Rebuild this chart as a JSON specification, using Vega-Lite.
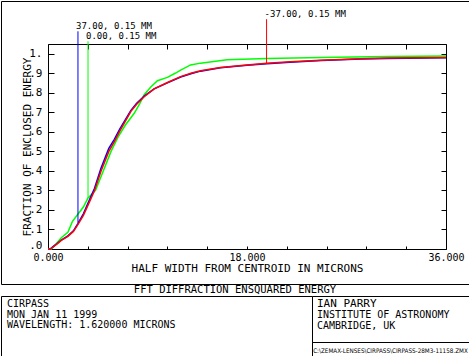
{
  "$schema": "https://vega.github.io/schema/vega-lite/v6.json",
  "padding": 0,
  "background": "white",
  "spacing": 0,
  "bounds": "flush",
  "config": {
    "font": "DejaVu Sans Mono",
    "view": {"stroke": "black", "strokeWidth": 1, "fill": "white"},
    "concat": {"spacing": 0},
    "axis": {
      "domainColor": "black", "tickColor": "black", "labelColor": "black", "titleColor": "black",
      "labelFont": "DejaVu Sans Mono", "titleFont": "DejaVu Sans Mono",
      "labelFontSize": 11, "titleFontSize": 11, "titleFontWeight": "normal",
      "grid": false, "domainWidth": 1, "tickWidth": 1
    },
    "text": {"font": "DejaVu Sans Mono", "fontSize": 11, "color": "black"}
  },
  "datasets": {
    "curves": [
      {"field": "0.00, 0.15 MM", "r": 0, "ee": 0},
      {"field": "0.00, 0.15 MM", "r": 0.3, "ee": 0},
      {"field": "0.00, 0.15 MM", "r": 0.6, "ee": 0.018},
      {"field": "0.00, 0.15 MM", "r": 1.2, "ee": 0.058},
      {"field": "0.00, 0.15 MM", "r": 1.8, "ee": 0.086},
      {"field": "0.00, 0.15 MM", "r": 2.2, "ee": 0.14},
      {"field": "0.00, 0.15 MM", "r": 2.7, "ee": 0.178},
      {"field": "0.00, 0.15 MM", "r": 3.2, "ee": 0.215},
      {"field": "0.00, 0.15 MM", "r": 3.62, "ee": 0.262},
      {"field": "0.00, 0.15 MM", "r": 4.3, "ee": 0.3},
      {"field": "0.00, 0.15 MM", "r": 5.0, "ee": 0.4},
      {"field": "0.00, 0.15 MM", "r": 5.7, "ee": 0.5},
      {"field": "0.00, 0.15 MM", "r": 6.4, "ee": 0.58},
      {"field": "0.00, 0.15 MM", "r": 7.0, "ee": 0.635},
      {"field": "0.00, 0.15 MM", "r": 7.8, "ee": 0.695},
      {"field": "0.00, 0.15 MM", "r": 8.3, "ee": 0.745},
      {"field": "0.00, 0.15 MM", "r": 8.7, "ee": 0.79},
      {"field": "0.00, 0.15 MM", "r": 9.3, "ee": 0.83},
      {"field": "0.00, 0.15 MM", "r": 9.9, "ee": 0.862},
      {"field": "0.00, 0.15 MM", "r": 10.8, "ee": 0.879},
      {"field": "0.00, 0.15 MM", "r": 11.5, "ee": 0.9},
      {"field": "0.00, 0.15 MM", "r": 12.0, "ee": 0.916},
      {"field": "0.00, 0.15 MM", "r": 12.9, "ee": 0.943},
      {"field": "0.00, 0.15 MM", "r": 13.8, "ee": 0.952},
      {"field": "0.00, 0.15 MM", "r": 16.2, "ee": 0.969},
      {"field": "0.00, 0.15 MM", "r": 19.8, "ee": 0.976},
      {"field": "0.00, 0.15 MM", "r": 24.7, "ee": 0.981},
      {"field": "0.00, 0.15 MM", "r": 30.7, "ee": 0.986},
      {"field": "0.00, 0.15 MM", "r": 36.0, "ee": 0.988},
      {"field": "37.00, 0.15 MM", "r": 0, "ee": 0},
      {"field": "37.00, 0.15 MM", "r": 0.2, "ee": 0},
      {"field": "37.00, 0.15 MM", "r": 0.45, "ee": 0.012},
      {"field": "37.00, 0.15 MM", "r": 0.8, "ee": 0.027},
      {"field": "37.00, 0.15 MM", "r": 1.2, "ee": 0.046},
      {"field": "37.00, 0.15 MM", "r": 1.8, "ee": 0.067},
      {"field": "37.00, 0.15 MM", "r": 2.3, "ee": 0.093},
      {"field": "37.00, 0.15 MM", "r": 2.7, "ee": 0.13},
      {"field": "37.00, 0.15 MM", "r": 3.2, "ee": 0.18},
      {"field": "37.00, 0.15 MM", "r": 3.7, "ee": 0.245},
      {"field": "37.00, 0.15 MM", "r": 4.2, "ee": 0.31},
      {"field": "37.00, 0.15 MM", "r": 4.8, "ee": 0.415},
      {"field": "37.00, 0.15 MM", "r": 5.5, "ee": 0.515},
      {"field": "37.00, 0.15 MM", "r": 6.0, "ee": 0.562},
      {"field": "37.00, 0.15 MM", "r": 6.5, "ee": 0.615},
      {"field": "37.00, 0.15 MM", "r": 7.0, "ee": 0.662},
      {"field": "37.00, 0.15 MM", "r": 7.5, "ee": 0.71},
      {"field": "37.00, 0.15 MM", "r": 8.0, "ee": 0.745},
      {"field": "37.00, 0.15 MM", "r": 8.7, "ee": 0.783},
      {"field": "37.00, 0.15 MM", "r": 9.6, "ee": 0.82},
      {"field": "37.00, 0.15 MM", "r": 10.8, "ee": 0.851},
      {"field": "37.00, 0.15 MM", "r": 12.0, "ee": 0.881},
      {"field": "37.00, 0.15 MM", "r": 13.0, "ee": 0.899},
      {"field": "37.00, 0.15 MM", "r": 13.8, "ee": 0.911},
      {"field": "37.00, 0.15 MM", "r": 15.6, "ee": 0.928},
      {"field": "37.00, 0.15 MM", "r": 18.0, "ee": 0.941},
      {"field": "37.00, 0.15 MM", "r": 19.8, "ee": 0.949},
      {"field": "37.00, 0.15 MM", "r": 21.9, "ee": 0.957},
      {"field": "37.00, 0.15 MM", "r": 24.7, "ee": 0.965},
      {"field": "37.00, 0.15 MM", "r": 28.3, "ee": 0.973},
      {"field": "37.00, 0.15 MM", "r": 30.7, "ee": 0.976},
      {"field": "37.00, 0.15 MM", "r": 36.0, "ee": 0.98},
      {"field": "-37.00, 0.15 MM", "r": 0, "ee": 0},
      {"field": "-37.00, 0.15 MM", "r": 0.2, "ee": 0},
      {"field": "-37.00, 0.15 MM", "r": 0.45, "ee": 0.01},
      {"field": "-37.00, 0.15 MM", "r": 0.8, "ee": 0.025},
      {"field": "-37.00, 0.15 MM", "r": 1.2, "ee": 0.044},
      {"field": "-37.00, 0.15 MM", "r": 1.8, "ee": 0.065},
      {"field": "-37.00, 0.15 MM", "r": 2.3, "ee": 0.09},
      {"field": "-37.00, 0.15 MM", "r": 2.7, "ee": 0.125},
      {"field": "-37.00, 0.15 MM", "r": 3.2, "ee": 0.172},
      {"field": "-37.00, 0.15 MM", "r": 3.7, "ee": 0.235},
      {"field": "-37.00, 0.15 MM", "r": 4.2, "ee": 0.298},
      {"field": "-37.00, 0.15 MM", "r": 4.8, "ee": 0.4},
      {"field": "-37.00, 0.15 MM", "r": 5.5, "ee": 0.5},
      {"field": "-37.00, 0.15 MM", "r": 6.0, "ee": 0.55},
      {"field": "-37.00, 0.15 MM", "r": 6.5, "ee": 0.605},
      {"field": "-37.00, 0.15 MM", "r": 7.0, "ee": 0.655},
      {"field": "-37.00, 0.15 MM", "r": 7.5, "ee": 0.705},
      {"field": "-37.00, 0.15 MM", "r": 8.0, "ee": 0.74},
      {"field": "-37.00, 0.15 MM", "r": 8.7, "ee": 0.78},
      {"field": "-37.00, 0.15 MM", "r": 9.6, "ee": 0.82},
      {"field": "-37.00, 0.15 MM", "r": 10.8, "ee": 0.853},
      {"field": "-37.00, 0.15 MM", "r": 12.0, "ee": 0.883},
      {"field": "-37.00, 0.15 MM", "r": 13.0, "ee": 0.901},
      {"field": "-37.00, 0.15 MM", "r": 13.8, "ee": 0.913},
      {"field": "-37.00, 0.15 MM", "r": 15.6, "ee": 0.93},
      {"field": "-37.00, 0.15 MM", "r": 18.0, "ee": 0.943},
      {"field": "-37.00, 0.15 MM", "r": 19.8, "ee": 0.951},
      {"field": "-37.00, 0.15 MM", "r": 21.9, "ee": 0.959},
      {"field": "-37.00, 0.15 MM", "r": 24.7, "ee": 0.967},
      {"field": "-37.00, 0.15 MM", "r": 28.3, "ee": 0.975},
      {"field": "-37.00, 0.15 MM", "r": 30.7, "ee": 0.978},
      {"field": "-37.00, 0.15 MM", "r": 36.0, "ee": 0.981}
    ],
    "markers": [
      {"field": "37.00, 0.15 MM", "r": 2.71, "ee": 0.135, "top": 1.115},
      {"field": "0.00, 0.15 MM", "r": 3.62, "ee": 0.262, "top": 1.064},
      {"field": "-37.00, 0.15 MM", "r": 19.77, "ee": 0.951, "top": 1.177}
    ]
  },
  "vconcat": [
    {
      "width": 468,
      "height": 283,
      "layer": [
        {
          "data": {"name": "curves"},
          "mark": {"type": "line", "strokeWidth": 1.5},
          "encoding": {
            "x": {
              "field": "r", "type": "quantitative",
              "scale": {"domain": [0, 36], "range": [47, 445], "nice": false, "zero": false},
              "axis": {
                "orient": "bottom", "offset": -35,
                "values": [0, 3.6, 7.2, 10.8, 14.4, 18, 21.6, 25.2, 28.8, 32.4, 36],
                "tickSize": -3, "labelPadding": 6, "labelFontSize": 10, "labelFlush": false, "labelOverlap": false,
                "labelExpr": "datum.value == 0 || datum.value == 18 || datum.value == 36 ? format(datum.value, '.3f') : ''",
                "title": "HALF WIDTH FROM CENTROID IN MICRONS", "titlePadding": 0
              }
            },
            "y": {
              "field": "ee", "type": "quantitative",
              "scale": {"domain": [0, 1.05], "range": [248, 43], "nice": false, "zero": false},
              "axis": {
                "orient": "left", "offset": -47,
                "values": [0, 0.1, 0.2, 0.3, 0.4, 0.5, 0.6, 0.7, 0.8, 0.9, 1],
                "tickSize": -6, "labelPadding": 12, "labelOverlap": false, "labelFlush": false,
                "labelOffset": {"condition": {"test": "datum.value == 0", "value": -4}, "value": 0},
                "labelExpr": "datum.value >= 0.999 ? '1.' : '.' + round(datum.value * 10)",
                "title": "FRACTION OF ENCLOSED ENERGY", "titlePadding": -4
              }
            },
            "color": {
              "field": "field", "type": "nominal",
              "scale": {"domain": ["0.00, 0.15 MM", "37.00, 0.15 MM", "-37.00, 0.15 MM"], "range": ["#00ff00", "#0000ff", "#ff0000"]},
              "legend": null
            },
            "order": {"field": "r", "type": "quantitative"}
          }
        },
        {
          "data": {"name": "markers"},
          "mark": {"type": "rule", "strokeWidth": 1},
          "encoding": {
            "x": {
              "field": "r", "type": "quantitative",
              "scale": {"domain": [0, 36], "range": [47, 445], "nice": false, "zero": false},
              "axis": {
                "orient": "top", "offset": -43,
                "values": [0, 3.6, 7.2, 10.8, 14.4, 18, 21.6, 25.2, 28.8, 32.4, 36],
                "tickSize": -5, "labels": false, "title": null
              }
            },
            "y": {
              "field": "ee", "type": "quantitative",
              "scale": {"domain": [0, 1.05], "range": [248, 43], "nice": false, "zero": false},
              "axis": {
                "orient": "right", "offset": -23,
                "values": [0, 0.1, 0.2, 0.3, 0.4, 0.5, 0.6, 0.7, 0.8, 0.9, 1],
                "tickSize": -5, "labels": false, "title": null
              }
            },
            "y2": {"field": "top"},
            "color": {"field": "field", "type": "nominal", "legend": null}
          }
        },
        {
          "data": {"name": "markers"},
          "mark": {"type": "text", "align": "left", "baseline": "alphabetic", "dx": -2, "dy": -2, "fontSize": 9},
          "encoding": {
            "x": {"field": "r", "type": "quantitative", "axis": null},
            "y": {"field": "top", "type": "quantitative", "axis": null},
            "text": {"field": "field"}
          }
        }
      ],
      "resolve": {"axis": {"x": "independent", "y": "independent"}}
    },
    {
      "width": 468,
      "height": 12,
      "data": {"values": [{"title": "FFT DIFFRACTION ENSQUARED ENERGY"}]},
      "mark": {"type": "text", "align": "center", "baseline": "middle", "fontSize": 10.5},
      "encoding": {"text": {"field": "title"}}
    },
    {
      "spacing": 0,
      "bounds": "flush",
      "hconcat": [
        {
          "width": 311,
          "height": 60,
          "data": {"values": [
            {"line": 1, "text": "CIRPASS"},
            {"line": 2, "text": "MON JAN 11 1999"},
            {"line": 3, "text": "WAVELENGTH: 1.620000 MICRONS"}
          ]},
          "mark": {"type": "text", "align": "left", "baseline": "middle", "dx": 6, "fontSize": 10},
          "encoding": {
            "x": {"datum": 0, "type": "quantitative", "scale": {"domain": [0, 1]}, "axis": null},
            "y": {"field": "line", "type": "quantitative", "scale": {"domain": [0.238, 5.952], "reverse": true, "nice": false, "zero": false}, "axis": null},
            "text": {"field": "text"}
          }
        },
        {
          "spacing": 0,
          "bounds": "flush",
          "vconcat": [
            {
              "width": 157,
              "height": 46,
              "data": {"values": [
                {"line": 1, "text": "IAN PARRY", "kind": "name"},
                {"line": 2, "text": "INSTITUTE OF ASTRONOMY", "kind": "org"},
                {"line": 3, "text": "CAMBRIDGE, UK", "kind": "org"}
              ]},
              "layer": [
                {
                  "transform": [{"filter": "datum.kind == 'name'"}],
                  "mark": {"type": "text", "align": "left", "baseline": "middle", "dx": 5, "fontSize": 11},
                  "encoding": {
                    "x": {"datum": 0, "type": "quantitative", "scale": {"domain": [0, 1]}, "axis": null},
                    "y": {"field": "line", "type": "quantitative", "scale": {"domain": [0.3333, 4.4222], "reverse": true, "nice": false, "zero": false}, "axis": null},
                    "text": {"field": "text"}
                  }
                },
                {
                  "transform": [{"filter": "datum.kind == 'org'"}],
                  "mark": {"type": "text", "align": "left", "baseline": "middle", "dx": 5, "fontSize": 10},
                  "encoding": {
                    "x": {"datum": 0, "type": "quantitative", "scale": {"domain": [0, 1]}, "axis": null},
                    "y": {"field": "line", "type": "quantitative", "scale": {"domain": [0.3333, 4.4222], "reverse": true, "nice": false, "zero": false}, "axis": null},
                    "text": {"field": "text"}
                  }
                }
              ]
            },
            {
              "width": 157,
              "height": 14,
              "data": {"values": [{"text": "C:\\ZEMAX-LENSES\\CIRPASS\\CIRPASS-28M3-11158.ZMX"}]},
              "mark": {"type": "text", "align": "center", "baseline": "middle", "dy": 2, "font": "DejaVu Sans Condensed", "fontSize": 6.3},
              "encoding": {"text": {"field": "text"}}
            }
          ]
        }
      ]
    }
  ]
}
